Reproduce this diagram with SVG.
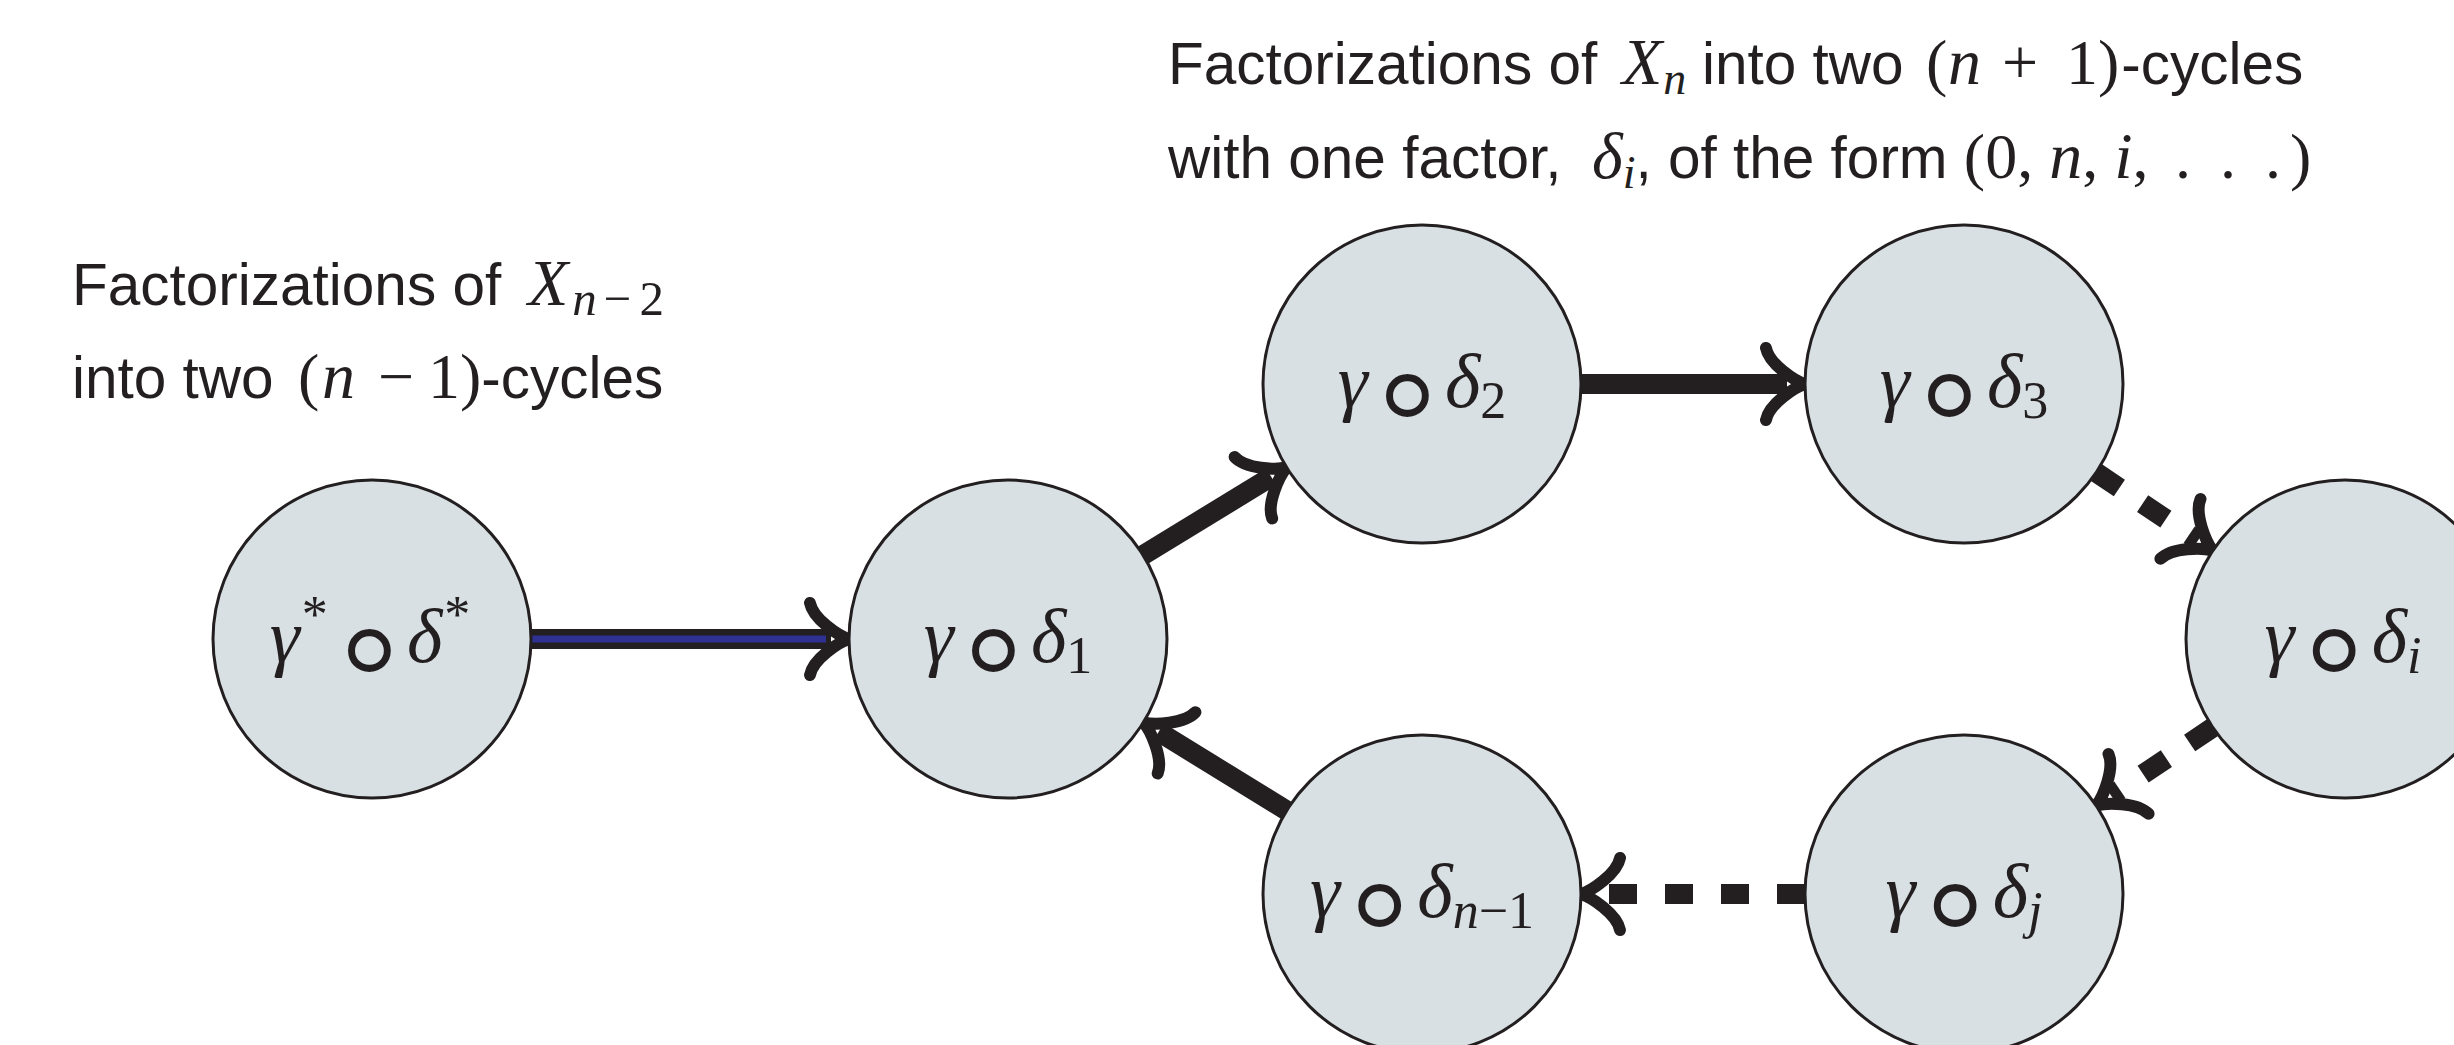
<svg xmlns="http://www.w3.org/2000/svg" width="2454" height="1045" viewBox="0 0 2454 1045">
<style>
.bg{fill:#ffffff}
.node circle{fill:#d8e0e3;stroke:#231f20;stroke-width:3}
.ln{fill:none;stroke:#231f20;stroke-width:20;stroke-linecap:butt}
.dash{stroke-dasharray:28 28}
.blue{fill:none;stroke:#2e3192;stroke-width:7}
.lb{font-family:"Liberation Sans",Arial,Helvetica,sans-serif;font-size:58.5px;fill:#231f20}
.mi{font-family:"Liberation Serif","DejaVu Serif",serif;font-style:italic;font-size:66px}
.mr{font-family:"Liberation Serif","DejaVu Serif",serif;font-size:64px}
.ms{font-size:46px}
.ms2{font-size:49px}
.nl{font-family:"Liberation Serif","DejaVu Serif",serif;font-size:76px;fill:#231f20;text-anchor:middle}
.i{font-style:italic}
.sb{font-size:52px}
.ring{font-family:"DejaVu Serif",serif;font-size:170px;font-style:normal;stroke:#d8e0e3;stroke-width:4.5}
</style>
<defs>
<marker id="to" markerUnits="userSpaceOnUse" orient="auto" markerWidth="100" markerHeight="100" viewBox="-60 -50 100 100" refX="-18" refY="0" overflow="visible">
<path d="M-39,-36 C-36,-20 -10,-3 0,0 C-10,3 -36,20 -39,36" fill="none" stroke="#231f20" stroke-width="12" stroke-linecap="round" stroke-linejoin="round"/>
</marker>
</defs>
<rect class="bg" x="0" y="0" width="2454" height="1045"/>

<g id="labels">
<text class="lb" x="1168" y="84">Factorizations of <tspan class="mi" x="1622">X</tspan><tspan class="mi ms" dx="1" dy="10">n</tspan><tspan x="1702" dy="-10">into two </tspan><tspan class="mr" x="1926">(</tspan><tspan class="mi" x="1948">n</tspan><tspan class="mr" x="2002">+</tspan><tspan class="mr" x="2066">1)</tspan><tspan dx="2">-cycles</tspan></text>
<text class="lb" x="1168" y="178">with one factor, <tspan class="mi" x="1592">δ</tspan><tspan class="mi ms" dy="10">i</tspan><tspan dy="-10">, of the form </tspan><tspan class="mr">(0, </tspan><tspan class="mi">n</tspan><tspan class="mr">, </tspan><tspan class="mi">i</tspan><tspan class="mr">, </tspan><tspan class="mr" x="2175">.</tspan><tspan class="mr" x="2220">.</tspan><tspan class="mr" x="2265">.</tspan><tspan class="mr" x="2290">)</tspan></text>
<text class="lb" x="72" y="305">Factorizations of <tspan class="mi" x="528">X</tspan><tspan class="mi ms2" dx="4" dy="10">n</tspan><tspan class="mr ms2" dx="7">−</tspan><tspan class="mr ms2" dx="8">2</tspan></text>
<text class="lb" x="72" y="398">into two <tspan class="mr" x="298">(</tspan><tspan class="mi" x="322">n</tspan><tspan class="mr" x="378">−</tspan><tspan class="mr" x="428">1)</tspan>-cycles</text>
</g>

<g id="connectors">
<line class="ln" x1="528" y1="639" x2="831" y2="639" marker-end="url(#to)"/>
<line class="blue" x1="528" y1="639" x2="826" y2="639"/>
<line class="ln" x1="1140" y1="557" x2="1271.3" y2="476.8" marker-end="url(#to)"/>
<line class="ln" x1="1578" y1="384" x2="1787" y2="384" marker-end="url(#to)"/>
<line class="ln dash" x1="2096.1" y1="472.4" x2="2197.9" y2="540.6" marker-end="url(#to)"/>
<line class="ln dash" x1="2212.9" y1="727.4" x2="2111.1" y2="795.6" marker-end="url(#to)"/>
<line class="ln dash" x1="1805" y1="894" x2="1599" y2="894" marker-end="url(#to)"/>
<line class="ln" x1="1289" y1="812" x2="1158.7" y2="731.8" marker-end="url(#to)"/>
</g>

<g id="node-gstar" class="node"><circle cx="372" cy="639" r="159"/><text class="nl" x="370" y="662"><tspan class="i">γ</tspan><tspan class="sb" dx="2" dy="-30">*</tspan><tspan class="ring" dx="0" dy="71.5">∘</tspan><tspan class="i" dx="-4" dy="-41.5">δ</tspan><tspan class="sb" dx="2" dy="-30">*</tspan></text></g>
<g id="node-d1" class="node"><circle cx="1008" cy="639" r="159"/><text class="nl" x="1008" y="662"><tspan class="i">γ</tspan><tspan class="ring" dx="-2" dy="41.5">∘</tspan><tspan class="i" dx="-4" dy="-41.5">δ</tspan><tspan class="sb" dy="11">1</tspan></text></g>
<g id="node-d2" class="node"><circle cx="1422" cy="384" r="159"/><text class="nl" x="1422" y="407"><tspan class="i">γ</tspan><tspan class="ring" dx="-2" dy="41.5">∘</tspan><tspan class="i" dx="-4" dy="-41.5">δ</tspan><tspan class="sb" dy="11">2</tspan></text></g>
<g id="node-d3" class="node"><circle cx="1964" cy="384" r="159"/><text class="nl" x="1964" y="407"><tspan class="i">γ</tspan><tspan class="ring" dx="-2" dy="41.5">∘</tspan><tspan class="i" dx="-4" dy="-41.5">δ</tspan><tspan class="sb" dy="11">3</tspan></text></g>
<g id="node-di" class="node"><circle cx="2345" cy="639" r="159"/><text class="nl" x="2343" y="662"><tspan class="i">γ</tspan><tspan class="ring" dx="-2" dy="41.5">∘</tspan><tspan class="i" dx="-4" dy="-41.5">δ</tspan><tspan class="sb i" dy="11">i</tspan></text></g>
<g id="node-dj" class="node"><circle cx="1964" cy="894" r="159"/><text class="nl" x="1964" y="917"><tspan class="i">γ</tspan><tspan class="ring" dx="-2" dy="41.5">∘</tspan><tspan class="i" dx="-4" dy="-41.5">δ</tspan><tspan class="sb i" dy="11">j</tspan></text></g>
<g id="node-dn1" class="node"><circle cx="1422" cy="894" r="159"/><text class="nl" x="1422" y="917"><tspan class="i">γ</tspan><tspan class="ring" dx="-2" dy="41.5">∘</tspan><tspan class="i" dx="-4" dy="-41.5">δ</tspan><tspan class="sb i" dy="11">n</tspan><tspan class="sb">−1</tspan></text></g>
</svg>
